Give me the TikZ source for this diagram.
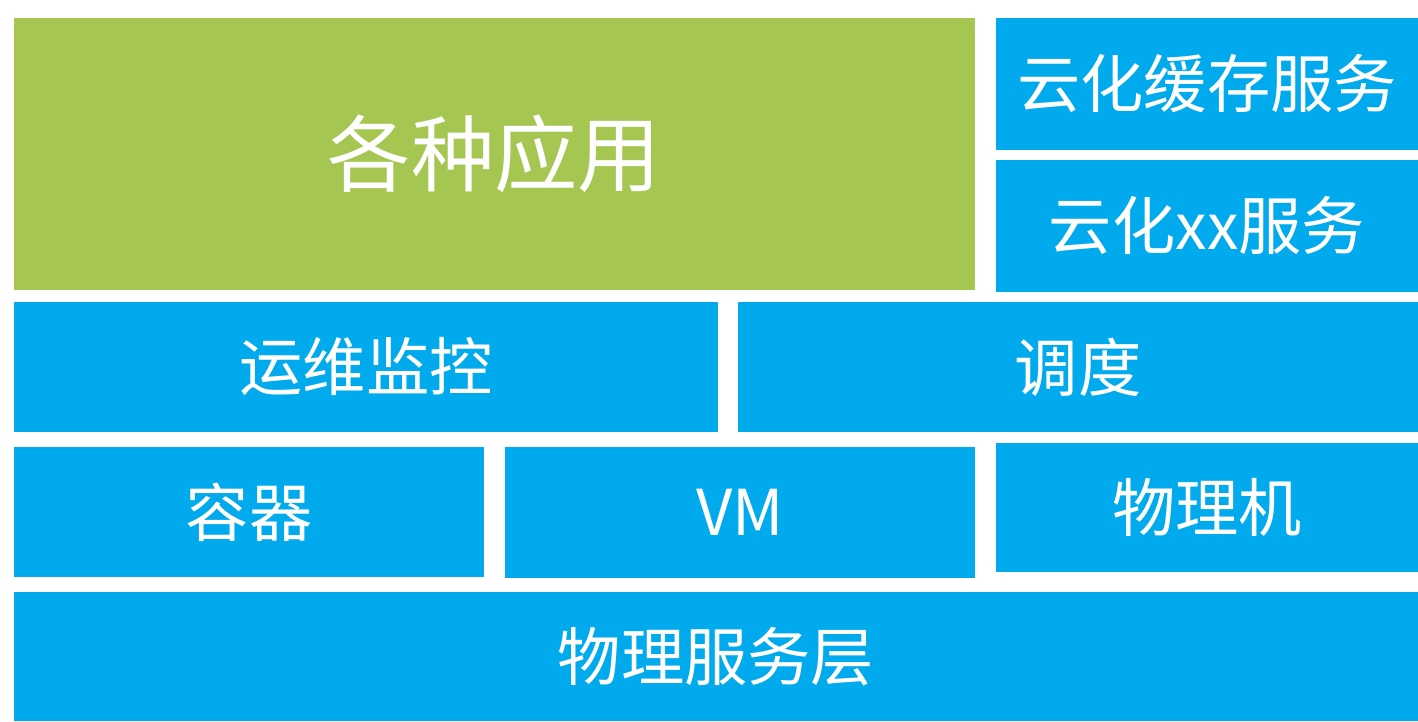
\documentclass[tikz,border=0pt]{standalone}
\usepackage{fontspec}
\setmainfont{Noto Sans CJK SC}
\definecolor{appgreen}{HTML}{A5C752}
\definecolor{layerblue}{HTML}{00AAEC}

\begin{document}
\begin{tikzpicture}[
    layer/.style={rectangle, inner sep=0em, draw=none, fill=layerblue,
      text=white, font=\fontsize{18}{21}\selectfont},
    bigapp/.style={layer, fill=appgreen, font=\fontsize{23.7}{27}\selectfont}
  ]
  \useasboundingbox (0,0) rectangle (14.18,-7.21);

  % Applications and cloud services

  \node[bigapp, minimum width=9.61cm, minimum height=2.72cm] (apps) at (4.945,-1.54) {各种应用};
  \node[layer, minimum width=4.22cm, minimum height=1.32cm] (cache) at (12.07,-0.84) {云化缓存服务};
  \node[layer, minimum width=4.22cm, minimum height=1.32cm] (xxsvc) at (12.07,-2.26) {云化xx服务};

  % Operations and scheduling

  \node[layer, minimum width=7.04cm, minimum height=1.30cm] (ops) at (3.66,-3.67) {运维监控};
  \node[layer, minimum width=6.80cm, minimum height=1.30cm] (sched) at (10.78,-3.67) {调度};

  % Runtime

  \node[layer, minimum width=4.70cm, minimum height=1.30cm] (container) at (2.49,-5.12) {容器};
  \node[layer, minimum width=4.70cm, minimum height=1.31cm] (vm) at (7.40,-5.125) {VM};
  \node[layer, minimum width=4.22cm, minimum height=1.29cm] (phys) at (12.07,-5.075) {物理机};

  % Physical layer

  \node[layer, minimum width=14.04cm, minimum height=1.29cm] (base) at (7.16,-6.565) {物理服务层};

\end{tikzpicture}
\end{document}
